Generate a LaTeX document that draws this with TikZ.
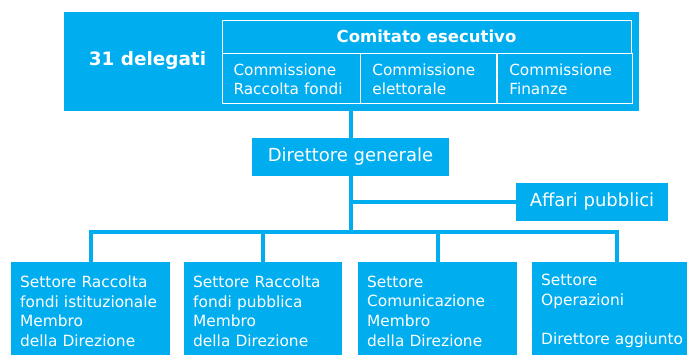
\documentclass[tikz,border=0pt]{standalone}
\usepackage{fontspec}
\setmainfont{DejaVu Sans}
\usetikzlibrary{positioning}
\definecolor{ciano}{RGB}{0,174,239}
\tikzset{
  blocco/.style={fill=ciano, text=white, inner sep=0pt},
  cella/.style={draw=white, line width=0.9pt, text=white, align=left, inner ysep=0pt, inner xsep=11.5pt, font=\fontsize{15.3}{19}\selectfont},
  settore/.style={blocco, anchor=north west, minimum height=98pt, inner xsep=9pt, align=left, font=\fontsize{15.4}{19.7}\selectfont},
  titolo/.style={blocco, font=\fontsize{18}{22}\selectfont},
  link/.style={draw=ciano, line width=4pt},
}

\begin{document}
\begin{tikzpicture}[x=1pt,y=-1pt]
\clip (0,0) rectangle (687,354);

% assemblea e comitato esecutivo
\node[blocco, minimum width=575pt, minimum height=99pt] (assemblea) at (351.5,61.5) {};
\node[anchor=base, text=white, font=\bfseries\fontsize{18.4}{22}\selectfont] (delegati) at (147.5,65) {31 delegati};
\node[cella, minimum width=409pt, minimum height=33pt, font=\bfseries\fontsize{16.5}{20}\selectfont] (comitato) at (426.5,36.5) {Comitato esecutivo};
\node[cella, anchor=north west, minimum height=50pt, text width=115pt] (raccolta) at (comitato.south west) {Commissione\\Raccolta fondi};
\node[cella, anchor=north west, minimum height=50pt, text width=113pt] (elettorale) at (raccolta.north east) {Commissione\\elettorale};
\node[cella, anchor=north west, minimum height=50pt, text width=112pt] (finanze) at (elettorale.north east) {Commissione\\Finanze};

% direzione
\node[titolo, minimum width=197pt, minimum height=38pt] (dg) at (350.5,157) {Direttore generale};
\node[titolo, minimum width=152pt, minimum height=38pt] (affari) at (592,202) {Affari pubblici};

% settori
\node[settore, text width=141pt] (istituzionale) at (11,262) {Settore Raccolta\\fondi istituzionale\\Membro\\della Direzione};
\node[settore, text width=140pt] (pubblica) at (184,262) {Settore Raccolta\\fondi pubblica\\Membro\\della Direzione};
\node[settore, text width=141pt] (comunicazione) at (358,262) {Settore\\Comunicazione\\Membro\\della Direzione};
\node[settore, text width=152pt] (operazioni) at (532,262) {Settore\\Operazioni\\[\baselineskip]Direttore aggiunto};

% collegamenti
\coordinate[below=56pt of dg.south] (snodo);
\draw[link] (assemblea.south -| dg.north) -- (dg.north);
\draw[link] (dg.south) -- (snodo);
\draw[link] (dg.south |- affari.west) -- (affari.west);
\draw[link] (istituzionale.north) |- (snodo) -| (operazioni.north);
\draw[link] (pubblica.north) -- (pubblica.north |- snodo);
\draw[link] (comunicazione.north) -- (comunicazione.north |- snodo);
\end{tikzpicture}
\end{document}
